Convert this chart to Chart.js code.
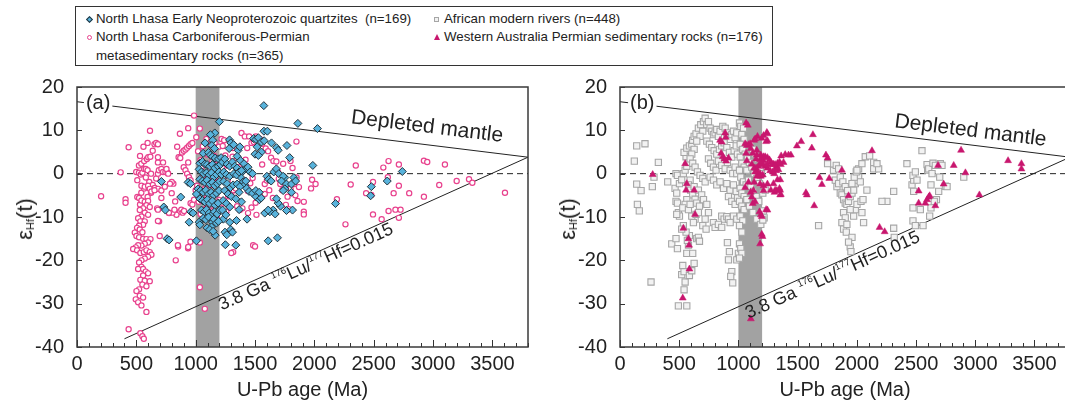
<!DOCTYPE html>
<html>
<head>
<meta charset="utf-8">
<script src="https://cdn.jsdelivr.net/npm/chart.js@4.4.1/dist/chart.umd.min.js"></script>
<style>
  html, body {
    margin: 0;
    padding: 0;
    width: 1065px;
    height: 403px;
    overflow: hidden;
    background: #fff;
    font-family: "Liberation Sans", Arial, sans-serif;
    color: #222;
  }
  .panel { position: absolute; top: 70px; }
  #legend {
    position: absolute;
    left: 75px;
    top: 6px;
    width: 696px;
    height: 58px;
    border: 1px solid #333;
    font-size: 13.3px;
  }
  #legend .txt { position: absolute; line-height: 16px; white-space: pre; }
  #legend .mk { position: absolute; box-sizing: border-box; }
  .mk.diamond { width: 5px; height: 5px; background: #58b3dc; border: 1px solid #22333d; transform: rotate(45deg); }
  .mk.circle { width: 5px; height: 5px; border: 1px solid #e8418d; border-radius: 50%; background: #fff; }
  .mk.square { width: 5px; height: 5px; border: 1px solid #a6a6a6; background: #f2f2f2; }
  .mk.triangle { width: 0; height: 0; border-left: 3px solid transparent; border-right: 3px solid transparent; border-bottom: 6px solid #c8166e; }
  .ytitle {
    position: absolute;
    transform: translate(-50%, -50%) rotate(-90deg);
    font-size: 22px;
    white-space: nowrap;
  }
  .ytitle sub { font-size: 11px; vertical-align: -2px; }
</style>
</head>
<body>

<div id="legend">
  <span class="mk diamond" style="left:11px;top:10px"></span>
  <span class="txt" style="left:20px;top:4px">North Lhasa Early Neoproterozoic quartzites  (n=169)</span>
  <span class="mk circle" style="left:11px;top:28px"></span>
  <span class="txt" style="left:20px;top:22px">North Lhasa Carboniferous-Permian</span>
  <span class="txt" style="left:20px;top:41px">metasedimentary rocks (n=365)</span>
  <span class="mk square" style="left:358px;top:10px"></span>
  <span class="txt" style="left:368px;top:4px">African modern rivers (n=448)</span>
  <span class="mk triangle" style="left:358px;top:27px"></span>
  <span class="txt" style="left:368px;top:22px">Western Australia Permian sedimentary rocks (n=176)</span>
</div>

<div class="panel" style="left:0px"><canvas id="panel-a" width="540" height="333"></canvas></div>
<div class="panel" style="left:540px"><canvas id="panel-b" width="540" height="333"></canvas></div>

<div class="ytitle" style="left:25px;top:219px">ε<sub>Hf</sub>(t)</div>
<div class="ytitle" style="left:568px;top:219px">ε<sub>Hf</sub>(t)</div>

<script>
const FONT = '"Liberation Sans", Arial, sans-serif';

const AGE_RANGE = [0, 3800];
const EPS_RANGE = [-40, 20];
const AGE_TICKS = [0, 500, 1000, 1500, 2000, 2500, 3000, 3500];
const EPS_TICKS = [-40, -30, -20, -10, 0, 10, 20];
const GRENVILLE_BAND = [1000, 1200];

// reference curves [age, εHf]
const DEPLETED_MANTLE = [[0, 16.6], [3800, 3.8]];
const CRUST_38GA = [[400, -38.1], [3800, 3.8]];
const CHUR = [[0, 0], [3800, 0]];

// (a) North Lhasa Early Neoproterozoic quartzites
const lhasaQuartzites = [
  [1574, 15.7], [1861, 11.6], [2026, 10.4], [1200, 12.0], [1575, 9.8], [1604, 9.8],
  [1161, 9.4], [1124, 9.0], [1144, 7.7], [1136, 6.5], [1158, 5.8], [1079, 7.1],
  [1063, 4.7], [1108, 4.9], [1124, 4.3], [1141, 3.9], [1164, 3.6], [1192, 3.4], [1214, 3.7],
  [1285, 7.8], [1296, 7.1], [1320, 6.7], [1282, 5.8], [1358, 5.4], [1372, 6.2],
  [1488, 8.1], [1508, 7.9], [1528, 8.3], [1554, 7.3], [1577, 7.6], [1518, 6.2], [1554, 5.0], [1500, 4.5], [1528, 4.2],
  [1639, 7.1], [1681, 6.0], [1695, 5.4], [1769, 6.5], [1792, 3.7], [1987, 1.9],
  [1349, 4.0], [1378, 3.0], [1407, 2.3], [1421, 1.1], [1441, 1.5], [1459, 0.4], [1479, 0.0],
  [1392, 0.4], [1378, -0.8], [1401, -1.9], [1412, -2.6], [1430, -3.4], [1450, -4.1],
  [1479, -4.5], [1508, -5.3], [1537, -6.0], [1552, -5.6],
  [1600, -0.6], [1615, -1.3], [1636, -1.7], [1658, 0.4], [1680, 1.1], [1700, 0.0],
  [1751, -0.9], [1737, -0.6], [1723, -1.7], [1765, -2.4], [1751, -3.5], [1737, -3.9],
  [1827, -0.9], [1807, -2.4], [1807, -4.3], [1842, -1.7],
  [1816, -8.4], [1765, -8.5], [1715, -7.5], [1695, -6.8], [1681, -5.8],
  [1653, -8.4], [1625, -8.8], [1582, -9.1], [1611, -8.4], [1670, -9.3],
  [1611, -15.5], [1689, -14.8], [1338, -16.5], [1296, -12.9], [1310, -13.5], [1287, -11.2],
  [1433, -10.5], [1344, -10.8], [1366, -8.3], [1386, -6.5], [1507, -3.9], [1535, -4.3],
  [1164, -14.2], [1127, -10.3], [1141, -11.2], [1133, -12.3],
  [1006, -15.5], [1029, -11.2], [1035, -11.8], [959, -8.8], [978, -9.1], [945, -11.2],
  [936, -2.0], [956, -2.3], [874, -5.4], [759, -15.0], [776, -15.3], [731, -7.7], [745, -8.4], [711, -1.8],
  [2178, -6.9], [2480, -3.0], [2474, -5.1], [2614, -1.7], [2741, 0.5],
  [1233, -10.5], [1247, -13.5], [1262, -14.1], [1250, -16.4],
  [1035, 2.4], [1057, 2.8], [1077, 2.2], [1096, 2.1], [1119, 1.7], [1141, 2.1], [1161, 1.3], [1189, 1.7], [1209, 2.1],
  [1029, 1.0], [1049, 0.4], [1068, 0.0], [1091, 0.2], [1113, -0.3], [1133, 0.2], [1153, -0.8], [1175, -0.2], [1197, 0.4], [1217, -0.2],
  [1035, -1.3], [1057, -1.7], [1077, -2.0], [1096, -1.5], [1119, -2.4], [1141, -2.0], [1161, -2.8], [1183, -2.3], [1203, -1.8],
  [1020, -3.5], [1040, -3.9], [1063, -4.3], [1085, -3.8], [1108, -4.7], [1130, -4.3], [1153, -5.0], [1175, -4.5], [1197, -3.9],
  [1035, -5.8], [1057, -6.2], [1077, -6.5], [1099, -6.0], [1119, -6.9], [1141, -6.3], [1164, -7.3], [1189, -6.8],
  [1049, -8.4], [1071, -8.8], [1091, -8.3], [1113, -9.1], [1136, -9.5], [1158, -8.8], [1181, -9.3], [1203, -8.4],
  [1063, -10.3], [1085, -10.6], [1108, -10.0], [1153, -10.5], [1175, -11.4], [1192, -11.0],
  [1096, -12.5], [1119, -12.9], [1147, -13.3], [1006, -4.7],
  [1226, 2.7], [1245, 3.4], [1265, 2.2], [1287, 1.7], [1310, 2.7], [1330, 1.7], [1349, 1.3],
  [1237, 0.4], [1259, -0.2], [1287, -0.6], [1321, 0.0], [1344, -0.3], [1366, 0.4], [1386, 0.7],
  [1237, -1.8], [1265, -2.3], [1293, -3.2], [1316, -2.6], [1349, -2.4], [1372, -3.0], [1422, -1.7],
  [1245, -3.9], [1273, -4.7], [1301, -5.3], [1338, -5.8], [1366, -4.3],
  [1231, -6.2], [1259, -6.9], [1287, -7.7], [1226, -8.4], [1254, -9.5]
];

// (a) North Lhasa Carboniferous-Permian metasedimentary rocks
const lhasaMetasediments = [
  [203, -5.2], [368, 0.3], [409, -5.9], [409, -6.7], [435, 6.1], [435, -35.9],
  [615, 9.9], [595, 7.1], [560, 6.2], [522, 1.9], [542, 2.3], [566, 2.9], [589, 3.4], [600, 3.8], [618, 3.9],
  [499, 0.4], [522, 0.2], [537, -0.2], [551, 0.2], [566, 1.1], [580, 1.1], [595, 0.8], [624, 0.0],
  [531, 4.1], [638, 5.3], [653, 6.8], [508, -1.5], [580, -0.9], [609, -1.9], [638, -2.6], [653, -3.4],
  [624, -4.4], [595, -5.4], [560, -6.4], [531, -7.1], [508, -5.4], [542, -4.4], [566, -3.4],
  [543, -2.8], [571, -3.0], [599, -2.8], [613, -3.5], [627, -4.1], [655, -3.3], [683, -3.5], [711, -3.9],
  [523, -5.6], [543, -6.2], [571, -6.5], [599, -6.3], [585, -7.3], [613, -7.7], [557, -8.0], [529, -8.4],
  [571, -9.0], [599, -9.5], [543, -9.9], [515, -10.3], [534, -11.0], [571, -11.0], [557, -11.8], [523, -12.0],
  [506, -12.5], [529, -12.9], [551, -13.5], [487, -13.6], [501, -14.4], [523, -14.7], [557, -15.0], [585, -15.1],
  [619, -15.1], [599, -15.9], [571, -16.2], [543, -16.6], [515, -16.5], [495, -17.0], [473, -17.4], [506, -17.7],
  [534, -18.3], [563, -18.1], [585, -17.7], [613, -18.1], [627, -18.7], [599, -19.2], [571, -19.6], [543, -20.0],
  [523, -20.5], [543, -21.5], [515, -22.0], [557, -22.0], [579, -22.6], [599, -23.0], [557, -23.5], [534, -24.5],
  [571, -24.7], [613, -24.8], [551, -25.6], [585, -26.0], [523, -26.7], [501, -27.1], [529, -28.2], [557, -28.6],
  [495, -29.0], [515, -29.7], [543, -30.4], [585, -31.9], [534, -36.8], [551, -37.5], [563, -38.1],
  [697, -14.4], [692, -11.0], [866, -8.8], [838, -9.5], [675, -8.0], [776, -9.1], [804, -9.0],
  [852, -16.8], [936, -17.2], [832, -20.0], [1316, -18.1], [1484, -16.5], [1035, -26.2], [1077, -31.2],
  [653, -3.8], [667, -1.1], [682, 0.0], [690, 0.8], [711, 1.1], [725, 0.4], [667, 7.1], [682, 6.8],
  [682, 2.6], [682, 3.8], [682, -8.3], [682, -10.9], [745, 0.4], [763, 0.2], [754, 1.1], [812, -2.3],
  [798, -1.9], [827, -6.4], [821, -8.3], [850, -16.5], [844, 6.2], [856, 3.8], [870, 3.6], [885, 4.9],
  [899, 5.3], [914, 5.6], [928, 6.0], [943, 6.4], [957, 6.8], [972, 7.1], [867, 9.2], [937, 10.5],
  [899, 1.5], [914, 0.8], [928, 0.0], [943, -0.8], [957, -1.5], [937, 2.6], [879, -8.3], [890, -9.0],
  [902, -8.6], [937, -16.9], [957, -6.8], [972, -7.1], [986, -6.0], [1000, -3.8], [986, 13.4], [725, 2.6],
  [768, 0.0], [783, -2.3], [740, -3.0], [711, -5.6], [734, -7.9], [774, -9.0], [798, -4.5],
  [1005, 8.4], [1020, 5.2], [1035, 10.4], [1040, 3.1], [1050, 1.5], [1060, 6.3], [1068, -1.2], [1075, 2.2],
  [1080, -3.4], [1090, 8.0], [1095, -5.6], [1100, 4.4], [1110, -7.1], [1118, 0.6], [1125, 6.6], [1130, -2.6],
  [1140, 2.8], [1148, -8.5], [1155, 4.1], [1160, 7.1], [1165, -4.8], [1170, 0.2], [1178, -9.8], [1182, 3.2],
  [1188, -1.8], [1195, 6.2], [1200, -6.1], [1012, -2.8], [1025, -6.5], [1042, -9.3], [1055, -4.2], [1062, -0.4],
  [1085, -8.1], [1105, -1.1], [1035, -15.9], [956, -15.7],
  [1218, 8.0], [1228, 6.4], [1240, 7.7], [1250, 4.2], [1262, 1.9], [1270, -1.5], [1283, -3.6], [1293, -5.2],
  [1300, -18.3], [1310, 3.9], [1313, 5.9], [1349, 5.8], [1386, 9.4], [1414, 8.6], [1434, 5.9], [1450, 8.6],
  [1470, 7.1], [1490, 7.3], [1507, 8.6], [1520, 6.8], [1540, 8.0], [1560, 6.9], [1590, 5.8], [1610, 5.2],
  [1635, 3.7], [1655, 2.9], [1680, 2.8], [1695, 0.3], [1737, 2.3], [1799, 2.9], [1816, 1.3], [1849, 7.4],
  [1830, -2.4], [1850, -0.9], [1870, -3.1], [1858, -6.3], [1911, -6.5], [1911, -8.8], [1911, -9.4], [1774, -5.3],
  [1730, -3.8], [1713, -2.4], [1700, -1.2], [1582, -2.4], [1582, -4.7], [1518, -5.8], [1512, -9.5], [1505, -6.7],
  [1470, -7.8], [1441, -9.1], [1349, -7.5], [1372, -8.4], [1394, -8.0], [1273, -5.2], [1300, -4.7], [1320, -3.8],
  [1338, -3.4], [1231, -6.9], [1245, -8.0], [1259, -8.8], [1500, -16.8], [1440, -4.0], [1460, -2.2], [1480, -1.0],
  [1400, -1.5], [1380, 1.2], [1420, 3.2], [1350, 2.6], [1560, 2.1], [1600, -1.6], [1620, -3.8], [1650, -5.6],
  [1760, -7.2], [1785, -8.2], [1800, -3.5], [1840, -5.0],
  [1981, -1.4], [1972, -3.4], [2010, -2.4], [2190, -5.9], [2262, -11.7], [2306, -2.5], [2349, 1.9], [2436, -4.5],
  [2480, -4.9], [2494, -9.4], [2494, -1.9], [2567, -10.5], [2581, 1.4], [2625, 2.9], [2619, -0.8], [2625, -8.6],
  [2668, -4.5], [2683, -8.3], [2712, 2.1], [2712, -2.8], [2712, -10.2], [2726, -8.3], [2799, -4.5], [2923, 3.0],
  [2951, 2.7], [2923, -5.3], [3100, 2.1], [3052, -2.6], [3199, -1.7], [3303, -1.3], [3331, -2.1], [3606, -4.4]
];

// (b) African modern rivers
const africanRivers = [
  [121, 2.9], [141, 6.4], [211, 6.9], [141, -2.4], [178, -3.9], [147, -7.1], [163, -8.6], [262, -25.0],
  [273, -3.0], [287, -0.8], [324, 2.6], [403, -1.9],
  [473, 0.0], [485, -0.4], [465, -3.4], [479, -4.5], [473, -6.4], [485, -6.8], [493, -9.0], [502, -9.8],
  [479, -9.4], [437, -16.2], [473, -15.0], [485, -17.3], [493, -30.5], [564, -30.5], [521, -23.3], [541, -22.6],
  [550, -25.0], [541, -26.8], [530, -21.2], [564, -18.4], [578, -16.5], [569, -15.4], [586, -14.3], [558, -13.5],
  [535, -12.0], [521, -12.8], [586, -23.5], [606, -22.4], [626, -20.7], [614, -18.4], [648, -15.0], [662, -14.7],
  [671, -15.6], [634, -10.5], [620, -11.3], [606, -9.8], [642, -9.4], [662, -9.0],
  [502, -2.3], [521, -1.4], [535, 0.0], [550, 0.8], [564, 1.7], [578, 2.6], [558, 3.9], [541, 4.9],
  [564, 5.9], [586, 6.4], [606, 6.8], [614, 7.7], [626, 8.6], [642, 9.2], [662, 10.5], [682, 11.3],
  [705, 12.0], [719, 12.8], [733, 11.3], [747, 12.0], [761, 10.5], [699, 9.8], [676, 8.6], [648, 7.5],
  [626, 5.6], [606, 4.5], [592, 3.4], [614, 2.4], [634, 1.5], [654, 0.4], [676, -0.4], [699, -1.1],
  [719, -1.9], [592, -1.5], [578, -2.6], [597, -3.8], [614, -4.9], [634, -5.9], [648, -6.8], [671, -7.5],
  [626, -3.0], [662, -3.8], [690, -4.9], [705, -6.0], [733, -7.1], [747, -9.0], [719, -10.5], [699, -12.0],
  [727, -12.8], [564, -6.0], [550, -7.1], [530, -7.9], [578, -8.3], [592, -7.1],
  [775, 9.8], [789, 9.0], [803, 9.4], [817, 10.2], [831, 8.6], [845, 9.8], [868, 10.9], [888, 10.5],
  [902, 9.4], [916, 8.6], [930, 7.9], [944, 9.0], [958, 9.8], [972, 8.3], [986, 9.4],
  [733, 7.5], [755, 6.8], [775, 6.0], [795, 5.3], [817, 4.5], [840, 5.6], [859, 6.4], [879, 7.1],
  [902, 6.0], [924, 4.9], [944, 3.8], [964, 5.3], [981, 6.4], [992, 4.5],
  [747, 3.4], [766, 2.4], [789, 1.5], [811, 0.8], [831, 2.9], [859, 1.9], [888, 1.1], [907, 2.6],
  [930, 0.8], [952, 0.0], [972, 1.5], [986, 0.0],
  [761, -0.8], [789, -1.5], [817, -2.6], [845, -1.9], [874, -3.4], [902, -2.3], [930, -3.8], [958, -2.6],
  [981, -4.1], [916, -5.3], [944, -6.4], [972, -7.1], [992, -5.6],
  [789, -11.3], [803, -12.4], [859, -9.8], [879, -10.5], [902, -9.9], [916, -10.5], [930, -11.3], [958, -9.8],
  [986, -10.5], [907, -15.9], [924, -18.0], [916, -19.9], [944, -22.6], [935, -23.7], [952, -25.2], [986, -19.9],
  [1000, -18.4], [831, -11.7], [859, -12.4],
  [1009, 11.7], [1020, 10.9], [1043, 10.5], [1029, 9.0], [1048, 7.9], [1015, 6.8], [1037, 5.6], [1057, 4.5],
  [1077, 3.4], [1015, 3.8], [1029, 2.4], [1048, 1.5], [1071, 0.8], [1009, 0.8], [1020, -0.8], [1043, -1.9],
  [1065, -2.6], [1015, -3.4], [1029, -4.5], [1048, -5.3], [1071, -6.0], [1009, -6.4], [1029, -7.5], [1048, -8.3],
  [1015, -9.8], [1037, -10.9], [1009, -12.0], [1029, -13.5], [1009, -16.2], [1020, -17.3], [1029, -18.4], [1009, -19.5],
  [1099, 6.8], [1122, 5.6], [1141, 4.5], [1161, 3.4], [1093, 2.6], [1113, 1.5], [1133, 0.0], [1155, -1.1],
  [1178, -2.3], [1105, -3.0], [1127, -4.1], [1150, -5.3], [1172, -6.4], [1093, -7.5], [1122, -9.0], [1155, -10.5],
  [1189, -11.7], [1085, -1.5], [1184, 1.1], [1195, 0.0], [1206, -4.5],
  [1212, -8.6], [1217, -10.2], [1206, -10.7], [1226, -3.8], [1677, -12.0], [1753, 2.3],
  [1803, 0.8], [1826, 1.9], [1846, 1.1], [1818, -1.5], [1832, -3.0], [1846, -2.3], [1860, -4.5], [1874, -4.9],
  [1888, -6.0], [1902, -6.8], [1916, -7.1], [1930, -6.4], [1944, -5.3], [1959, -4.5], [1973, -3.8], [1987, -2.3],
  [2001, -1.5], [2015, -0.8], [2029, -1.9], [1860, -0.8], [1882, -1.9], [1902, -3.0], [1922, -3.9], [1959, -2.3],
  [1978, -0.8], [1995, 0.4], [2015, 1.1], [1888, -9.0], [1902, -10.2], [1874, -11.3], [1888, -12.8], [1911, -13.5],
  [1959, -14.7], [1944, -16.9], [1950, -18.0], [1930, -15.8], [1916, -11.7], [1973, -9.8], [1987, -8.3], [2001, -7.1],
  [2035, -6.4], [2052, -6.0], [2057, -11.3], [2043, -9.0], [2085, -3.8], [2043, 2.3], [2001, 0.8], [1944, -8.3],
  [2071, 3.9], [2108, 4.1], [2142, 2.6], [2142, 1.1], [2184, 1.1], [2170, 2.3], [2254, -6.4], [2311, -4.1],
  [2311, -12.6], [2316, -14.7], [2212, -6.4],
  [2423, 2.3], [2550, 5.3], [2466, -2.6], [2480, -1.5], [2474, -0.4], [2494, 0.4], [2480, -4.1], [2474, -7.9],
  [2474, -10.9], [2494, -12.0], [2615, -9.8], [2593, 2.1], [2598, 0.8], [2607, 1.1], [2643, 2.4], [2663, 1.9],
  [2705, 2.3], [2719, 1.9], [2700, -0.8], [2691, -4.1], [2672, -6.0], [2654, -6.4], [2748, -2.9], [2762, -3.0],
  [2635, 0.0], [2508, -1.5], [2626, -2.6], [2536, -8.3], [2626, -7.9], [2559, -12.0], [2903, -0.8]
];

// (b) Western Australia Permian sedimentary rocks
const westAustralia = [
  [276, -0.2], [530, -28.7], [550, 2.3], [564, -2.3], [558, -3.8], [535, -12.6], [578, -15.0], [583, -16.5],
  [586, -22.0], [626, -3.8], [634, -9.4],
  [888, 9.4], [845, 7.7], [854, 4.7], [882, 3.4], [896, 2.9], [859, 7.3], [893, 8.4], [868, 3.9], [916, 3.6],
  [1065, 11.7], [1057, 6.9], [1240, 9.5], [1105, -33.5], [1234, -8.3], [1274, -3.8], [1296, -2.3], [1330, -1.4],
  [1353, -1.4], [1347, -3.4], [1353, -4.9],
  [1361, 4.1], [1395, 4.4], [1423, 4.3], [1443, 4.3], [1381, 2.6], [1494, 6.4], [1530, 7.4], [1570, -4.4],
  [1578, -4.9], [1629, 9.0], [1620, 5.9], [1640, -7.4], [1685, -0.9], [1705, -2.5], [1739, 4.3], [1753, 3.6],
  [1767, -1.1], [1874, 0.8], [1930, -5.1], [2128, 5.3], [2192, -12.4], [2235, -13.4],
  [2522, -4.0], [2522, -6.8], [2578, -6.8], [2593, -6.0], [2607, -5.4], [2615, -5.1], [2663, -7.4], [2733, -2.4],
  [2686, 1.9], [2818, 1.9], [2880, 5.4], [2917, 0.2], [3035, -4.9], [3277, 3.0], [3390, 2.3], [3390, 1.1],
  [1079, 11.2], [1161, 8.6], [1197, 8.2], [1212, 8.8], [1245, 9.2], [1133, 7.7], [1141, 8.0], [1071, 6.5],
  [1085, 6.7], [1099, 6.9], [1155, 5.4], [1234, 7.4], [1245, 7.6],
  [1104, 5.8], [1065, 4.7], [1121, 4.7], [1155, 4.3], [1189, 4.3], [1212, 3.9], [1149, 3.4], [1183, 3.2], [1212, 3.0],
  [1226, 3.9], [1245, 3.7], [1262, 3.2], [1273, 2.7], [1296, 2.2], [1324, 1.7], [1310, 1.0], [1290, 0.4],
  [1268, 0.7], [1245, 1.3], [1226, 1.7], [1206, 2.1], [1183, 2.2], [1169, 1.7], [1149, 1.3], [1161, 0.4],
  [1183, 0.0], [1206, -0.3], [1189, -0.6], [1169, -0.3], [1155, -0.6], [1141, 0.4], [1133, 1.3], [1113, 2.2], [1071, 3.0],
  [1245, 2.1], [1282, 2.1], [1310, 2.1], [1330, 2.4], [1347, 2.7], [1358, 2.1], [1338, 0.9], [1319, 0.7], [1302, 0.0],
  [1133, -2.0], [1183, -2.4], [1212, -2.8], [1245, -2.4], [1212, -3.9],
  [1305, -4.3], [1324, -3.9], [1352, -3.8], [1358, -4.8], [1310, -3.8],
  [1085, -2.0], [1057, -3.2], [1104, -4.3], [1127, -3.9],
  [1121, -6.9], [1141, -6.5], [1113, -5.4], [1178, -8.8], [1189, -9.5], [1197, -9.9], [1245, -8.4],
  [1197, -14.0], [1203, -14.5], [1183, -16.2]
];

const toPoints = (rows) => rows.map(([x, y]) => ({ x, y }));

function referenceLines() {
  return [
    { data: toPoints(CHUR), showLine: true, pointRadius: 0, borderColor: "#222", borderWidth: 1, borderDash: [6, 4] },
    { data: toPoints(DEPLETED_MANTLE), showLine: true, pointRadius: 0, borderColor: "#222", borderWidth: 1 },
    { data: toPoints(CRUST_38GA), showLine: true, pointRadius: 0, borderColor: "#222", borderWidth: 1 }
  ];
}

// band, frame, inward ticks and curve labels
const panelDecor = {
  id: "panelDecor",
  beforeDatasetsDraw(chart) {
    const { ctx, chartArea, scales: { x } } = chart;
    const x1 = x.getPixelForValue(GRENVILLE_BAND[0]);
    const x2 = x.getPixelForValue(GRENVILLE_BAND[1]);
    ctx.save();
    ctx.fillStyle = "#a2a2a2";
    ctx.fillRect(x1, chartArea.top, x2 - x1, chartArea.bottom - chartArea.top);
    ctx.restore();
  },
  afterDraw(chart, args, opts) {
    const { ctx, chartArea: a, scales: { x, y } } = chart;
    ctx.save();

    // panel letter sits on top of the depleted mantle line
    ctx.font = `20px ${FONT}`;
    ctx.textBaseline = "middle";
    const lx = x.getPixelForValue(opts.labelAt[0]);
    const ly = y.getPixelForValue(opts.labelAt[1]);
    const lw = ctx.measureText(opts.label).width;
    ctx.fillStyle = "#fff";
    ctx.fillRect(lx - 2, ly - 10, lw + 4, 20);
    ctx.fillStyle = "#222";
    ctx.fillText(opts.label, lx, ly);

    const angleOf = (line) => Math.atan2(
      y.getPixelForValue(line[1][1]) - y.getPixelForValue(line[0][1]),
      x.getPixelForValue(line[1][0]) - x.getPixelForValue(line[0][0])
    );

    ctx.save();
    ctx.translate(x.getPixelForValue(opts.dmTextAt[0]), y.getPixelForValue(opts.dmTextAt[1]));
    ctx.rotate(angleOf(DEPLETED_MANTLE));
    ctx.textAlign = "center";
    ctx.font = `21px ${FONT}`;
    ctx.fillText("Depleted mantle", 0, 0);
    ctx.restore();

    ctx.save();
    ctx.translate(x.getPixelForValue(opts.crustTextAt[0]), y.getPixelForValue(opts.crustTextAt[1]));
    ctx.rotate(angleOf(CRUST_38GA));
    ctx.textBaseline = "alphabetic";
    const parts = [["3.8 Ga ", false], ["176", true], ["Lu/", false], ["177", true], ["Hf=0.015", false]];
    let cx = 0;
    for (const [txt, sup] of parts) {
      ctx.font = sup ? `9.5px ${FONT}` : `18px ${FONT}`;
      ctx.fillText(txt, cx, sup ? -8 : 0);
      cx += ctx.measureText(txt).width;
    }
    ctx.restore();

    // inward tick marks
    ctx.strokeStyle = "#333";
    ctx.lineWidth = 1;
    ctx.beginPath();
    for (let v = AGE_RANGE[0]; v <= AGE_RANGE[1]; v += 100) {
      const px = Math.round(x.getPixelForValue(v)) + 0.5;
      const len = v % 500 === 0 ? 7 : 4;
      ctx.moveTo(px, a.bottom);
      ctx.lineTo(px, a.bottom - len);
    }
    for (const v of EPS_TICKS) {
      const py = Math.round(y.getPixelForValue(v)) + 0.5;
      ctx.moveTo(a.left, py);
      ctx.lineTo(a.left + 5, py);
    }
    ctx.stroke();

    ctx.strokeStyle = "#3a3a3a";
    ctx.lineWidth = 1.5;
    ctx.strokeRect(a.left, a.top, a.right - a.left, a.bottom - a.top);
    ctx.restore();
  }
};

function buildPanel(canvasId, series, decor, axisWidth, padRight) {
  return new Chart(document.getElementById(canvasId), {
    type: "scatter",
    data: { datasets: [...series, ...referenceLines()] },
    options: {
      responsive: false,
      animation: false,
      layout: { padding: { top: 10, right: padRight, left: 0, bottom: 0 } },
      plugins: {
        legend: { display: false },
        tooltip: { enabled: false },
        panelDecor: decor
      },
      scales: {
        x: {
          type: "linear",
          min: AGE_RANGE[0],
          max: AGE_RANGE[1],
          afterBuildTicks: (s) => { s.ticks = AGE_TICKS.map((value) => ({ value })); },
          afterFit: (s) => { s.height = 56; },
          grid: { display: false },
          border: { display: false },
          ticks: {
            color: "#222",
            font: { size: 20, family: FONT },
            padding: -3,
            maxRotation: 0,
            autoSkip: false,
            callback: (value) => String(value)
          },
          title: { display: true, text: "U-Pb age (Ma)", color: "#222", font: { size: 20, family: FONT }, padding: { top: 0, bottom: 1 } }
        },
        y: {
          type: "linear",
          min: EPS_RANGE[0],
          max: EPS_RANGE[1],
          afterBuildTicks: (s) => { s.ticks = EPS_TICKS.map((value) => ({ value })); },
          afterFit: (s) => { s.width = axisWidth; },
          grid: { display: false },
          border: { display: false },
          ticks: { color: "#222", font: { size: 20, family: FONT }, padding: 5 }
        }
      }
    },
    plugins: [panelDecor]
  });
}

buildPanel("panel-a", [
  {
    label: "North Lhasa Early Neoproterozoic quartzites",
    data: toPoints(lhasaQuartzites),
    pointStyle: "rectRot", pointRadius: 4,
    backgroundColor: "#58b3dc", borderColor: "#22333d", borderWidth: 1
  },
  {
    label: "North Lhasa Carboniferous-Permian metasedimentary rocks",
    data: toPoints(lhasaMetasediments),
    pointStyle: "circle", pointRadius: 2.6,
    backgroundColor: "#fff", borderColor: "#e8418d", borderWidth: 1.2
  }
], { label: "(a)", labelAt: [75, 16.2], dmTextAt: [2950, 10.8], crustTextAt: [1220, -31.6] }, 77, 12);

buildPanel("panel-b", [
  {
    label: "Western Australia Permian sedimentary rocks",
    data: toPoints(westAustralia),
    pointStyle: "triangle", pointRadius: 4,
    backgroundColor: "#c8166e", borderColor: "#c8166e", borderWidth: 0.5
  },
  {
    label: "African modern rivers",
    data: toPoints(africanRivers),
    pointStyle: "rect", pointRadius: 4.4,
    backgroundColor: "#f2f2f2", borderColor: "#a6a6a6", borderWidth: 1.1
  }
], { label: "(b)", labelAt: [85, 16.2], dmTextAt: [2960, 9.9], crustTextAt: [1085, -33.5] }, 80, 10);
</script>
</body>
</html>
